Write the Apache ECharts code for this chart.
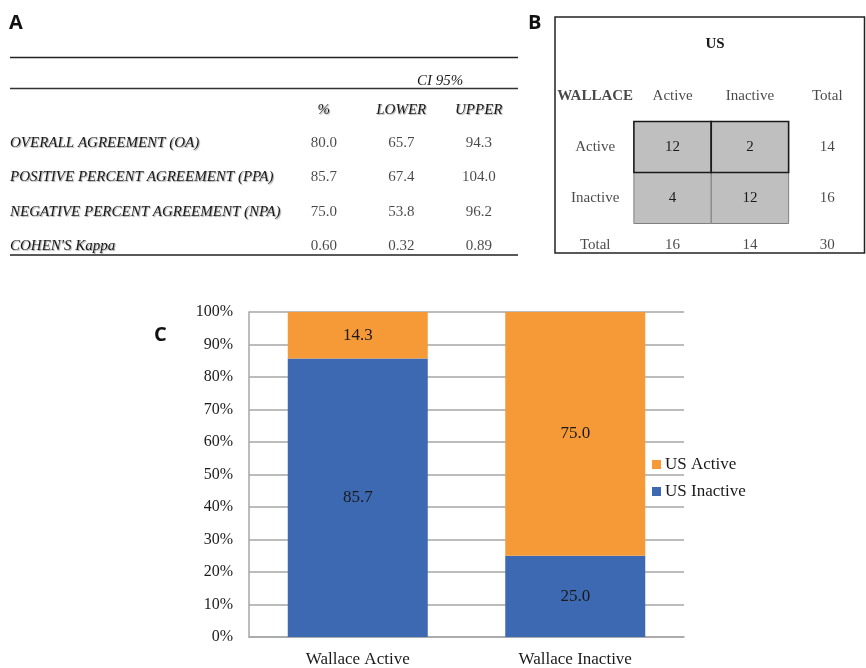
<!DOCTYPE html>
<html>
<head>
<meta charset="utf-8">
<title>Wallace vs US agreement</title>
<script src="https://cdn.jsdelivr.net/npm/echarts@6/dist/echarts.min.js"></script>
<style>
  html, body { margin: 0; padding: 0; background: #fff; }
  #chart { width: 866px; height: 668px; }
</style>
</head>
<body>
<div id="chart"></div>
<script>
// ---- Panel A: agreement statistics ----
const metricRows = ['OVERALL AGREEMENT (OA)', 'POSITIVE PERCENT AGREEMENT (PPA)', 'NEGATIVE PERCENT AGREEMENT (NPA)', "COHEN'S Kappa"];
const metricCols = ['%', 'LOWER', 'UPPER'];
const pctValues = [80.0, 85.7, 75.0, 0.60];
const lowerValues = [65.7, 67.4, 53.8, 0.32];
const upperValues = [94.3, 104.0, 96.2, 0.89];
const metricDecimals = [1, 1, 1, 2];

// ---- Panel B: cross-tabulation (rows: WALLACE, columns: US) ----
const levels = ['Active', 'Inactive'];
const crossCounts = [[12, 2], [4, 12]];

// ---- Panel C: stacked percentages ----
const wallaceGroups = ['Wallace Active', 'Wallace Inactive'];
const usActivePct = [14.3, 75.0];
const usInactivePct = [85.7, 25.0];
const yTickLabels = ['0%', '10%', '20%', '30%', '40%', '50%', '60%', '70%', '80%', '90%', '100%'];

const SERIF = '"Liberation Serif", "Times New Roman", serif';
const SANS = '"Open Sans", "Liberation Sans", sans-serif';
const INK = '#1a1a1a';
const ORANGE = '#f69a38';
const BLUE = '#3d69b2';
const GRIDLINE = '#a6a6a6';

// Panel A cells: one labelled point per (row, column)
const metricColumns = [pctValues, lowerValues, upperValues];
const tableAData = [];
metricRows.forEach((row, r) => {
  metricColumns.forEach((col, c) => {
    tableAData.push({ name: col[r].toFixed(metricDecimals[r]), value: [c, r] });
  });
});

// Panel B layout: columns [row header, Active, Inactive, Total], rows [title, header, Active, Inactive, Total]
const bCols = ['hdr', 'Active', 'Inactive', 'Total'];
const bRows = ['title', 'hdr', 'Active', 'Inactive', 'Total'];
const rowTotals = crossCounts.map(r => r[0] + r[1]);
const colTotals = [crossCounts[0][0] + crossCounts[1][0], crossCounts[0][1] + crossCounts[1][1]];
const grandTotal = rowTotals[0] + rowTotals[1];

const totalsLift = { offset: [0, -4] };
const tableBText = [
  { name: 'WALLACE', value: [0, 1], label: { fontWeight: 'bold' } },
  { name: levels[0], value: [1, 1] },
  { name: levels[1], value: [2, 1] },
  { name: 'Total', value: [3, 1] },
  { name: levels[0], value: [0, 2] },
  { name: levels[1], value: [0, 3] },
  { name: String(rowTotals[0]), value: [3, 2] },
  { name: String(rowTotals[1]), value: [3, 3] },
  { name: 'Total', value: [0, 4], label: totalsLift },
  { name: String(colTotals[0]), value: [1, 4], label: totalsLift },
  { name: String(colTotals[1]), value: [2, 4], label: totalsLift },
  { name: String(grandTotal), value: [3, 4], label: totalsLift }
];

// Shaded count cells; the Inactive row is listed first so the Active row's darker edge sits on top
const tableBCells = [];
[1, 0].forEach(r => {
  [0, 1].forEach(c => {
    tableBCells.push([c + 1, r + 2, crossCounts[r][c]]);
  });
});

const chart = echarts.init(document.getElementById('chart'), null, { renderer: 'canvas' });

const italicShadow = {
  fontFamily: SERIF,
  fontStyle: 'italic',
  fontSize: 15,
  color: INK,
  textShadowColor: 'rgba(0,0,0,0.35)',
  textShadowBlur: 1,
  textShadowOffsetX: 1,
  textShadowOffsetY: 1
};

const option = {
  backgroundColor: '#ffffff',
  animation: false,
  textStyle: { fontFamily: SERIF },
  grid: [
    { left: 249, top: 312, width: 435, height: 327 },
    { left: 285, top: 126, width: 232.5, height: 137 },
    { left: 556.5, top: 19.5, width: 316, height: 255 }
  ],
  legend: {
    data: ['US Active', 'US Inactive'],
    orient: 'vertical',
    left: 647,
    top: 451,
    icon: 'rect',
    itemWidth: 9,
    itemHeight: 9,
    itemGap: 10,
    textStyle: { fontFamily: SERIF, fontSize: 17, color: INK, padding: [0, 0, 0, -1] }
  },
  xAxis: [
    {
      type: 'category',
      gridIndex: 0,
      data: wallaceGroups,
      axisLine: { show: true, lineStyle: { color: GRIDLINE, width: 1.5 } },
      axisTick: { show: false },
      axisLabel: { fontFamily: SERIF, fontSize: 17, color: INK, margin: 14 }
    },
    {
      type: 'category',
      gridIndex: 1,
      data: metricCols,
      position: 'top',
      axisLine: { show: false },
      axisTick: { show: false },
      splitLine: { show: false },
      axisLabel: Object.assign({}, italicShadow, { margin: 8 })
    },
    {
      type: 'category',
      gridIndex: 2,
      data: bCols,
      show: false
    }
  ],
  yAxis: [
    {
      type: 'value',
      gridIndex: 0,
      min: 0,
      max: 100,
      interval: 10,
      axisLine: { show: true, lineStyle: { color: GRIDLINE, width: 1.5 } },
      axisTick: { show: false },
      splitLine: { show: true, lineStyle: { color: GRIDLINE, width: 1.5 } },
      axisLabel: {
        fontFamily: SERIF,
        fontSize: 16,
        color: INK,
        margin: 16,
        formatter: v => yTickLabels[Math.round(v / 10)]
      }
    },
    {
      type: 'category',
      gridIndex: 1,
      data: metricRows,
      inverse: true,
      axisLine: { show: false },
      axisTick: { show: false },
      splitLine: { show: false },
      axisLabel: Object.assign({}, italicShadow, { align: 'left', margin: 275 })
    },
    {
      type: 'category',
      gridIndex: 2,
      data: bRows,
      inverse: true,
      show: false
    }
  ],
  series: [
    {
      name: 'US Inactive',
      type: 'bar',
      stack: 'us',
      xAxisIndex: 0,
      yAxisIndex: 0,
      barWidth: 140,
      data: usInactivePct,
      itemStyle: { color: BLUE },
      label: {
        show: true,
        position: 'inside',
        fontFamily: SERIF,
        fontSize: 17,
        color: INK,
        formatter: p => p.value.toFixed(1)
      }
    },
    {
      name: 'US Active',
      type: 'bar',
      stack: 'us',
      xAxisIndex: 0,
      yAxisIndex: 0,
      barWidth: 140,
      data: usActivePct,
      itemStyle: { color: ORANGE },
      label: {
        show: true,
        position: 'inside',
        fontFamily: SERIF,
        fontSize: 17,
        color: INK,
        formatter: p => p.value.toFixed(1)
      }
    },
    {
      type: 'scatter',
      xAxisIndex: 1,
      yAxisIndex: 1,
      symbolSize: 1,
      itemStyle: { color: 'rgba(0,0,0,0)' },
      silent: true,
      data: tableAData,
      label: {
        show: true,
        position: 'inside',
        formatter: '{b}',
        fontFamily: SERIF,
        fontSize: 15,
        color: INK
      }
    },
    {
      type: 'custom',
      xAxisIndex: 2,
      yAxisIndex: 2,
      silent: true,
      data: tableBCells,
      renderItem: (params, api) => {
        const c = api.coord([api.value(0), api.value(1)]);
        const s = api.size([1, 1]);
        const strong = api.value(1) === 2;
        return {
          type: 'rect',
          shape: { x: c[0] - s[0] / 2, y: c[1] - s[1] / 2, width: s[0], height: s[1] },
          style: {
            fill: '#bfbfbf',
            stroke: strong ? '#1a1a1a' : '#808080',
            lineWidth: strong ? 1.6 : 1
          },
          textContent: {
            style: { text: String(api.value(2)), fontFamily: SERIF, fontSize: 15, fill: INK }
          },
          textConfig: { position: 'inside' }
        };
      }
    },
    {
      type: 'scatter',
      xAxisIndex: 2,
      yAxisIndex: 2,
      symbolSize: 1,
      itemStyle: { color: 'rgba(0,0,0,0)' },
      silent: true,
      data: tableBText,
      label: {
        show: true,
        position: 'inside',
        formatter: '{b}',
        fontFamily: SERIF,
        fontSize: 15,
        color: INK
      }
    }
  ],
  graphic: [
    // panel letters
    { type: 'text', left: 9, top: 13, style: { text: 'A', fontFamily: SANS, fontWeight: 'bold', fontSize: 20, fill: '#111' } },
    { type: 'text', left: 528, top: 13, style: { text: 'B', fontFamily: SANS, fontWeight: 'bold', fontSize: 20, fill: '#111' } },
    { type: 'text', left: 154, top: 325, style: { text: 'C', fontFamily: SANS, fontWeight: 'bold', fontSize: 20, fill: '#111' } },
    // panel A rules and spanning header
    { type: 'line', shape: { x1: 10, y1: 57.5, x2: 518, y2: 57.5 }, style: { stroke: '#222', lineWidth: 1.5 } },
    { type: 'line', shape: { x1: 10, y1: 88.5, x2: 518, y2: 88.5 }, style: { stroke: '#333', lineWidth: 1.5 } },
    { type: 'line', shape: { x1: 10, y1: 255, x2: 518, y2: 255 }, style: { stroke: '#222', lineWidth: 1.5 } },
    {
      type: 'text', x: 440, y: 81,
      style: { text: 'CI 95%', align: 'center', verticalAlign: 'middle', font: 'italic 15px "Liberation Serif", serif', fill: INK, shadowColor: 'rgba(0,0,0,0.35)', shadowBlur: 1, shadowOffsetX: 1, shadowOffsetY: 1 }
    },
    // panel B frame and title
    { type: 'rect', shape: { x: 555, y: 17, width: 309.5, height: 236 }, style: { fill: 'none', stroke: '#222', lineWidth: 1.5 } },
    { type: 'text', x: 715, y: 44, style: { text: 'US', align: 'center', verticalAlign: 'middle', font: 'bold 15px "Liberation Serif", serif', fill: INK } }
  ]
};

chart.setOption(option);
</script>
</body>
</html>
